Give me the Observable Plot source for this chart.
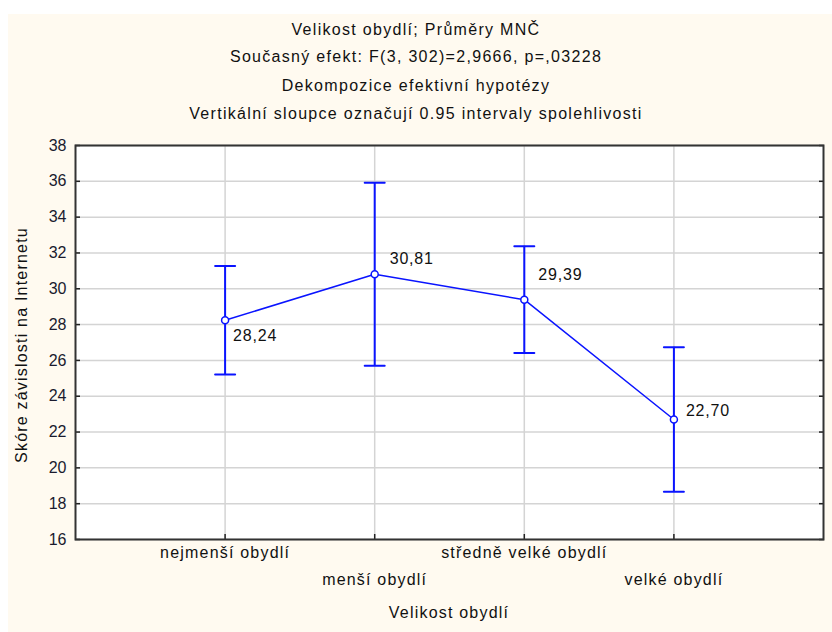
<!DOCTYPE html>
<html><head><meta charset="utf-8">
<script src="https://cdn.jsdelivr.net/npm/d3@7"></script>
<script src="https://cdn.jsdelivr.net/npm/@observablehq/plot@0.6"></script>
<style>
body{margin:0;background:#fff;}
#wrap{position:relative;width:832px;height:632px;overflow:hidden;font-family:"Liberation Sans",Arial,sans-serif;color:#111;}
#bg{position:absolute;left:8px;top:14px;right:0;bottom:0;background:#fffaf0;}
.t{position:absolute;left:0;width:832px;text-align:center;font-size:16px;letter-spacing:1.3px;line-height:18px;}
#ylab{position:absolute;left:22px;top:345px;font-size:16px;letter-spacing:1.2px;white-space:nowrap;transform:translate(-50%,-50%) rotate(-90deg);}
#xlab{position:absolute;left:449px;top:613px;font-size:16px;letter-spacing:1.2px;white-space:nowrap;transform:translate(-50%,-50%);}
#chart{position:absolute;left:0;top:0;width:832px;height:632px;}
#chart svg{display:block;max-width:none !important;}
#chart svg .cat text{letter-spacing:1.2px;}
#chart svg .val text{letter-spacing:0.8px;}
</style></head><body>
<div id="wrap"><div id="bg"></div><div id="titles"></div><div id="ylab"></div><div id="xlab"></div><div id="chart"></div></div>
<script>
const categories = ["nejmenší obydlí", "menší obydlí", "středně velké obydlí", "velké obydlí"];
const means = [28.24, 30.81, 29.39, 22.70];
const lower = [25.21, 25.70, 26.41, 18.67];
const upper = [31.27, 35.92, 32.37, 26.73];
const yTicks = [16, 18, 20, 22, 24, 26, 28, 30, 32, 34, 36, 38];
const titleLines = [
  "Velikost obydlí; Průměry MNČ",
  "Současný efekt: F(3, 302)=2,9666, p=,03228",
  "Dekompozice efektivní hypotézy",
  "Vertikální sloupce označují 0.95 intervaly spolehlivosti"
];
const yLabel = "Skóre závislosti na Internetu";
const xLabel = "Velikost obydlí";

const titleTops = [21, 48, 77, 105];
const titles = document.getElementById("titles");
titleLines.forEach((s, i) => {
  const d = document.createElement("div");
  d.className = "t"; d.textContent = s; d.style.top = titleTops[i] + "px";
  titles.appendChild(d);
});
document.getElementById("ylab").textContent = yLabel;
document.getElementById("xlab").textContent = xLabel;

const data = categories.map((c, i) => ({i: i + 1, cat: c, mean: means[i], lo: lower[i], hi: upper[i]}));
const fmt = v => v.toFixed(2).replace(".", ",");
const blue = "#0a14ff";
const labelOffsets = [[8, 16], [15, -15], [14, -25], [12, -9]];
const capShape = {draw(ctx, l) { ctx.moveTo(-l / 2, 0); ctx.lineTo(l / 2, 0); }};

const plot = Plot.plot({
  width: 832,
  height: 632,
  marginTop: 145,
  marginBottom: 93,
  marginLeft: 75,
  marginRight: 9,
  style: {background: "transparent", fontFamily: "Liberation Sans, Arial, sans-serif", fontSize: "16px", color: "#111", overflow: "visible"},
  x: {type: "linear", domain: [0, 5], axis: null},
  y: {domain: [16, 38], axis: null},
  marks: [
    Plot.frame({fill: "white"}),
    Plot.gridY(yTicks, {stroke: "#d4d4d4", strokeOpacity: 1, strokeWidth: 1.5}),
    Plot.gridX(data.map(d => d.i), {stroke: "#d4d4d4", strokeOpacity: 1, strokeWidth: 1.5}),
    Plot.axisY(yTicks, {anchor: "left", tickSize: -5, tickPadding: 14, label: null, stroke: "#222", strokeWidth: 1.5, fontSize: 16, fill: "#1a1a2e"}),
    Plot.axisY(yTicks, {anchor: "right", tickSize: -5, label: null, tickFormat: () => "", stroke: "#222", strokeWidth: 1.5}),
    Plot.axisX(data.map(d => d.i), {anchor: "bottom", tickSize: -5, label: null, tickFormat: () => "", stroke: "#222", strokeWidth: 1.5}),
    Plot.text(data.filter(d => d.i % 2 === 1), {x: "i", text: "cat", frameAnchor: "bottom", dy: 18, fontSize: 16, fill: "#111", className: "cat"}),
    Plot.text(data.filter(d => d.i % 2 === 0), {x: "i", text: "cat", frameAnchor: "bottom", dy: 45, fontSize: 16, fill: "#111", className: "cat"}),
    Plot.frame({stroke: "#333", strokeWidth: 2}),
    Plot.ruleX(data, {x: "i", y1: "lo", y2: "hi", stroke: blue, strokeWidth: 2}),
    Plot.vector(data, {x: "i", y: "lo", length: 20, anchor: "start", stroke: blue, strokeWidth: 2, shape: capShape}),
    Plot.vector(data, {x: "i", y: "hi", length: 20, anchor: "start", stroke: blue, strokeWidth: 2, shape: capShape}),
    Plot.line(data, {x: "i", y: "mean", stroke: blue, strokeWidth: 1.5}),
    Plot.dot(data, {x: "i", y: "mean", r: 3.5, stroke: blue, strokeWidth: 1.5, fill: "white"}),
    ...data.map((d, k) => Plot.text([d], {x: "i", y: "mean", text: e => fmt(e.mean), textAnchor: "start", dx: labelOffsets[k][0], dy: labelOffsets[k][1], fontSize: 16, fill: "#111", className: "val"}))
  ]
});
document.getElementById("chart").appendChild(plot);
</script>
</body></html>
